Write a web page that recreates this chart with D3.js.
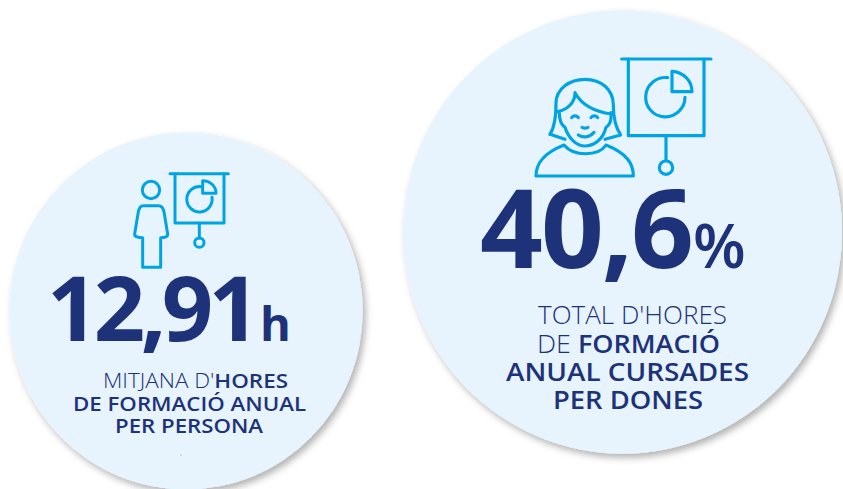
<!DOCTYPE html>
<html><head><meta charset="utf-8">
<script src="https://cdn.jsdelivr.net/npm/d3@7"></script>
<style>html,body{margin:0;padding:0;background:#fff}svg{display:block}text{font-family:"Open Sans",sans-serif;fill:#1d3278}</style>
</head><body><svg id="c" width="843" height="489"></svg>
<script>
// data
const kpiIds = ["hores", "dones"];
const kpiValues = [12.91, 40.6];
const kpiUnits = ["h", "%"];
const kpiDecimals = [2, 1];
const kpiLabels = [
  [[["MITJANA D'",0],["HORES",1]], [["DE FORMACIÓ ANUAL",1]], [["PER PERSONA",1]]],
  [[["TOTAL D'HORES",0]], [["DE ",0],["FORMACIÓ",1]], [["ANUAL CURSADES",1]], [["PER DONES",1]]]
];

// layout
const FILL="#e7f4fd", INK="#1d3278", CYAN="#00a4e4";
const rScale=d3.scaleLinear().domain(d3.extent(kpiValues)).range([176.7,219.5]);
const layout={
  hores:{cx:186,cy:311,num:{x:47,y:341,fs:90,w:213},unit:{x:260,fs:47,fw:700},
    lines:[{x:103,y:388,w:185},{x:73,y:411,w:233},{x:115,y:433,w:148}],lfs:20,
    icon:{x:120,y:160}},
  dones:{cx:622.5,cy:232,num:{x:480,y:268,fs:110,w:214},unit:{x:693,fs:61,fw:600},
    lines:[{x:538,y:324,w:189},{x:537,y:353,w:183},{x:506,y:381,w:243},{x:553,y:409,w:150}],lfs:25,
    icon:{x:520,y:40}}
};
const icons={
  hores:{sw:9,paths:[
    "M150 41H325","M165 41V189H312V41","M238 189V234",
    "M243 80A38 38 0 1 0 276 112",
    "M248 62V100H288C288 78 270 62 248 62Z",
    "M70 137H115C125 137 130 145 132 155L143 222C144 230 135 233 122 233V322H68V233C55 233 43 230 44 222L55 155C57 145 60 137 70 137Z"],
    circles:[[238,248,14],[93,90,26]]},
  dones:{sw:9.5,paths:[
    "M305 57H573","M325 57V287H552V57","M438 287V360",
    "M443 113A59 59 0 1 0 495 172",
    "M456 94V155H516C516 122 490 96 456 94Z",
    "M90 283C105 260 108 230 108 190C108 145 150 118 195 118C245 118 280 150 280 195C280 230 285 260 302 285L255 298",
    "M90 283L135 298",
    "M118 218C118 240 125 255 135 262C145 295 170 318 195 318C225 318 250 295 258 262C270 255 275 240 273 218",
    "M110 215C140 210 165 190 165 158C185 195 225 215 275 222",
    "M155 233C160 226 170 226 175 233","M213 233C218 226 228 226 233 233",
    "M186 262C192 265 198 265 204 262","M175 285C190 295 210 292 222 277",
    "M48 408H340C340 370 320 340 258 315C235 350 160 350 132 315C70 340 48 370 48 408Z"],
    circles:[[438,383,20]]}
};

const svg=d3.select("#c");
const f=svg.append("defs").append("filter").attr("id","sh")
  .attr("x","-10%").attr("y","-10%").attr("width","125%").attr("height","125%");
f.append("feDropShadow").attr("dx",3).attr("dy",4).attr("stdDeviation",3.5)
  .attr("flood-color","#000").attr("flood-opacity",.3);

const loc=d3.formatLocale({decimal:",",thousands:".",grouping:[3],currency:["","€"]});
const data=kpiIds.map((id,i)=>({id,value:kpiValues[i],unit:kpiUnits[i],dec:kpiDecimals[i],label:kpiLabels[i]}));

svg.selectAll("ellipse.bubble").data(data).join("ellipse").attr("class","bubble")
  .attr("cx",d=>layout[d.id].cx).attr("cy",d=>layout[d.id].cy)
  .attr("rx",d=>rScale(d.value)).attr("ry",d=>rScale(d.value)*1.01)
  .attr("fill",FILL).attr("filter","url(#sh)");

const g=svg.selectAll("g.kpi").data(data).join("g").attr("class","kpi");
g.each(function(d){
  const L=layout[d.id], s=d3.select(this), ic=icons[d.id];
  const gi=s.append("g").attr("transform",`translate(${L.icon.x},${L.icon.y}) scale(${1/3})`)
    .attr("fill","none").attr("stroke",CYAN).attr("stroke-width",ic.sw)
    .attr("stroke-linecap","round").attr("stroke-linejoin","round");
  ic.paths.forEach(p=>gi.append("path").attr("d",p));
  ic.circles.forEach(c=>gi.append("circle").attr("cx",c[0]).attr("cy",c[1]).attr("r",c[2]));
  s.append("text").attr("x",L.num.x).attr("y",L.num.y).attr("font-size",L.num.fs).attr("font-weight",700)
    .attr("textLength",L.num.w).attr("lengthAdjust","spacing")
    .text(loc.format(`.${d.dec}f`)(d.value));
  s.append("text").attr("x",L.unit.x).attr("y",L.num.y).attr("font-size",L.unit.fs).attr("font-weight",L.unit.fw)
    .text(d.unit);
  d.label.forEach((ln,i)=>{
    const t=s.append("text").attr("x",L.lines[i].x).attr("y",L.lines[i].y).attr("font-size",L.lfs)
      .attr("textLength",L.lines[i].w).attr("lengthAdjust","spacingAndGlyphs");
    ln.forEach(r=>t.append("tspan").attr("font-weight",r[1]?600:350).text(r[0]));
  });
});
svg.append("circle").attr("cx",181).attr("cy",455).attr("r",.6).attr("fill",INK).attr("opacity",.6);
</script></body></html>
